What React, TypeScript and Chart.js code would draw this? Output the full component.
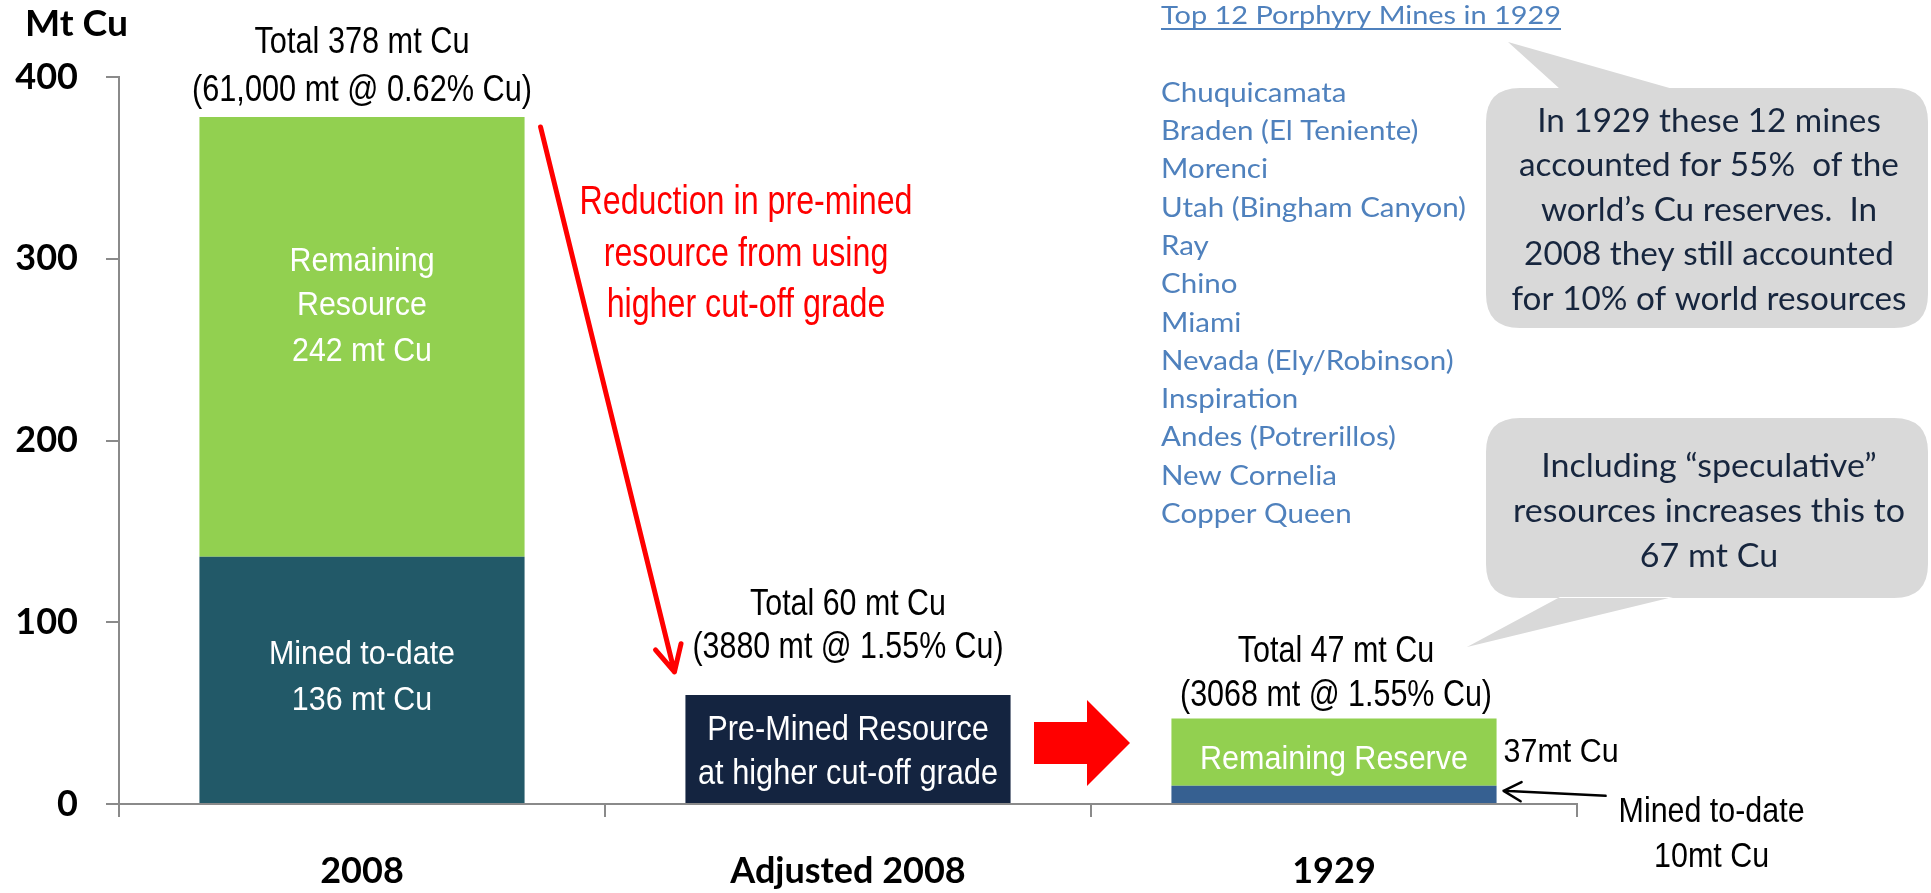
import React, { useEffect, useRef } from "react";
import { Chart, registerables } from "chart.js";

Chart.register(...registerables);

const categories = ["2008", "Adjusted 2008", "1929"];
const minedToDate = [136, null, 10];
const remaining = [242, null, 37];
const preMinedHigherCutoff = [null, 60, null];
const yMax = 400;
const yStep = 100;

const totalLabels = [
  ["Total 378 mt Cu", "(61,000 mt @ 0.62% Cu)"],
  ["Total 60 mt Cu", "(3880 mt @ 1.55% Cu)"],
  ["Total 47 mt Cu", "(3068 mt @ 1.55% Cu)"],
];
const mineTitle = "Top 12 Porphyry Mines in 1929";
const mines = [
  "Chuquicamata",
  "Braden (El Teniente)",
  "Morenci",
  "Utah (Bingham Canyon)",
  "Ray",
  "Chino",
  "Miami",
  "Nevada (Ely/Robinson)",
  "Inspiration",
  "Andes (Potrerillos)",
  "New Cornelia",
  "Copper Queen",
];
const callout1 = [
  "In 1929 these 12 mines",
  "accounted for 55%  of the",
  "world\u2019s Cu reserves.  In",
  "2008 they still accounted",
  "for 10% of world resources",
];
const callout2 = [
  "Including \u201cspeculative\u201d",
  "resources increases this to",
  "67 mt Cu",
];
const reductionText = ["Reduction in pre-mined", "resource from using", "higher cut-off grade"];

const ARIAL = "'Liberation Sans', Arial, sans-serif";
const CALIBRI = "Lato, 'Open Sans', sans-serif";
const AXIS = "#8a8a8a";

function fitLines(
  ctx: CanvasRenderingContext2D,
  lines: string[],
  x: number,
  ys: number[],
  size: number,
  family: string,
  weight: string,
  color: string,
  targetW: number,
  align: CanvasTextAlign = "center",
  capRatio = 0.72
) {
  ctx.save();
  ctx.font = `${weight} ${size}px ${family}`;
  const maxW = Math.max(...lines.map((l) => ctx.measureText(l).width));
  const sx = targetW / maxW;
  ctx.fillStyle = color;
  ctx.textAlign = align;
  ctx.textBaseline = "alphabetic";
  lines.forEach((l, i) => {
    ctx.save();
    ctx.translate(x, ys[i] + (capRatio * size) / 2);
    ctx.scale(sx, 1);
    ctx.fillText(l, 0, 0);
    ctx.restore();
  });
  ctx.restore();
  return sx;
}

function roundRect(ctx: CanvasRenderingContext2D, x0: number, y0: number, x1: number, y1: number, r: number) {
  ctx.moveTo(x0 + r, y0);
  ctx.lineTo(x1 - r, y0);
  ctx.quadraticCurveTo(x1, y0, x1, y0 + r);
  ctx.lineTo(x1, y1 - r);
  ctx.quadraticCurveTo(x1, y1, x1 - r, y1);
  ctx.lineTo(x0 + r, y1);
  ctx.quadraticCurveTo(x0, y1, x0, y1 - r);
  ctx.lineTo(x0, y0 + r);
  ctx.quadraticCurveTo(x0, y0, x0 + r, y0);
}

function arrowLine(
  ctx: CanvasRenderingContext2D,
  x0: number,
  y0: number,
  x1: number,
  y1: number,
  color: string,
  width: number,
  headLen: number,
  headAng: number
) {
  const a = Math.atan2(y1 - y0, x1 - x0);
  ctx.save();
  ctx.strokeStyle = color;
  ctx.lineWidth = width;
  ctx.lineCap = "round";
  ctx.lineJoin = "round";
  ctx.beginPath();
  ctx.moveTo(x0, y0);
  ctx.lineTo(x1, y1);
  ctx.moveTo(x1 - headLen * Math.cos(a - headAng), y1 - headLen * Math.sin(a - headAng));
  ctx.lineTo(x1, y1);
  ctx.lineTo(x1 - headLen * Math.cos(a + headAng), y1 - headLen * Math.sin(a + headAng));
  ctx.stroke();
  ctx.restore();
}

const annotations = {
  id: "annotations",
  afterDraw(chart: any) {
    const ctx: CanvasRenderingContext2D = chart.ctx;
    const mined = chart.getDatasetMeta(0).data;
    const rem = chart.getDatasetMeta(1).data;
    const pre = chart.getDatasetMeta(2).data;
    const b0 = rem[0];
    const b1 = pre[1];
    const b2 = rem[2];

    // axis title
    fitLines(ctx, ["Mt Cu"], 25, [23], 36, CALIBRI, "bold", "#000", 103, "left");

    // totals above bars
    fitLines(ctx, totalLabels[0], b0.x, [b0.y - 77, b0.y - 29], 36, ARIAL, "normal", "#000", 340, "center", 0.716);
    fitLines(ctx, totalLabels[1], b1.x, [b1.y - 93, b1.y - 50], 36, ARIAL, "normal", "#000", 311, "center", 0.716);
    fitLines(ctx, totalLabels[2], b2.x + 2, [b2.y - 69, b2.y - 25], 36, ARIAL, "normal", "#000", 312, "center", 0.716);

    // inside bars
    fitLines(ctx, ["Remaining", "Resource", "242 mt Cu"], b0.x, [b0.y + 142, b0.y + 186, b0.y + 232], 34, ARIAL, "normal", "#fff", 145, "center", 0.716);
    const m0 = mined[0];
    fitLines(ctx, ["Mined to-date", "136 mt Cu"], m0.x, [m0.y + 95, m0.y + 141], 34, ARIAL, "normal", "#fff", 186, "center", 0.716);
    fitLines(ctx, ["Pre-Mined Resource", "at higher cut-off grade"], b1.x, [b1.y + 33, b1.y + 77], 35, ARIAL, "normal", "#fff", 300, "center", 0.716);
    fitLines(ctx, ["Remaining Reserve"], b2.x, [b2.y + 39], 33, ARIAL, "normal", "#fff", 268, "center", 0.716);

    // labels to the right of 1929 bar
    const right = b2.x + b2.width / 2;
    fitLines(ctx, ["37mt Cu"], right + 7, [b2.y + 32], 33, ARIAL, "normal", "#000", 115, "left", 0.716);
    fitLines(ctx, ["Mined to-date", "10mt Cu"], right + 215, [b2.y + 91, b2.y + 136], 35, ARIAL, "normal", "#000", 186, "center", 0.716);
    const m2 = mined[2];
    arrowLine(ctx, right + 109, m2.y + 10, right + 7, m2.y + 5, "#000", 2.5, 20, 0.5);

    // red diagonal arrow + text
    arrowLine(ctx, b0.x + b0.width / 2 + 16, b0.y + 10, b1.x - b1.width / 2 - 11, b1.y - 23, "#ff0000", 5, 29, 0.47);
    fitLines(ctx, reductionText, 746, [200, 252, 303], 40, ARIAL, "normal", "#ff0000", 333, "center", 0.716);

    // red block arrow
    ctx.save();
    ctx.fillStyle = "#ff0000";
    ctx.beginPath();
    ctx.moveTo(1034, 722);
    ctx.lineTo(1087, 722);
    ctx.lineTo(1087, 700);
    ctx.lineTo(1130, 743);
    ctx.lineTo(1087, 786);
    ctx.lineTo(1087, 764);
    ctx.lineTo(1034, 764);
    ctx.closePath();
    ctx.fill();
    ctx.restore();

    // mines list
    const listX = 1161;
    fitLines(ctx, [mineTitle], listX, [15], 25, CALIBRI, "normal", "#4F81BD", 400, "left");
    ctx.save();
    ctx.strokeStyle = "#4F81BD";
    ctx.lineWidth = 2;
    ctx.beginPath();
    ctx.moveTo(listX, 29);
    ctx.lineTo(listX + 400, 29);
    ctx.stroke();
    ctx.restore();
    fitLines(
      ctx,
      mines,
      listX,
      mines.map((_, i) => 92 + i * 38.3),
      27,
      CALIBRI,
      "normal",
      "#4F81BD",
      305,
      "left"
    );

    // callouts
    ctx.save();
    ctx.fillStyle = "#d9d9d9";
    ctx.beginPath();
    roundRect(ctx, 1486, 88, 1928, 328, 34);
    ctx.moveTo(1560, 89);
    ctx.lineTo(1508, 42);
    ctx.lineTo(1673, 89);
    ctx.closePath();
    ctx.fill();
    ctx.beginPath();
    roundRect(ctx, 1486, 418, 1928, 598, 34);
    ctx.moveTo(1560, 597);
    ctx.lineTo(1467, 647);
    ctx.lineTo(1673, 597);
    ctx.closePath();
    ctx.fill();
    ctx.restore();

    fitLines(ctx, callout1, 1709, [120, 164, 209, 253, 298], 32, CALIBRI, "normal", "#17263e", 395, "center");
    fitLines(ctx, callout2, 1709, [465, 510, 555], 32, CALIBRI, "normal", "#17263e", 392, "center");
  },
};

export default function App() {
  const ref = useRef<HTMLCanvasElement | null>(null);
  useEffect(() => {
    const canvas = ref.current;
    if (!canvas) return;
    const tickFont = { family: "Lato, 'Open Sans', sans-serif", weight: "bold" as const, size: 36 };
    const chart = new Chart(canvas, {
      type: "bar",
      data: {
        labels: categories,
        datasets: [
          { label: "Mined to-date", data: minedToDate, backgroundColor: ["#225968", "#225968", "#366091"] },
          { label: "Remaining", data: remaining, backgroundColor: "#92D050" },
          { label: "Pre-Mined Resource at higher cut-off grade", data: preMinedHigherCutoff, backgroundColor: "#142440" },
        ],
      },
      options: {
        responsive: false,
        animation: false,
        devicePixelRatio: 1,
        layout: { padding: { top: 77, right: 354, left: 0, bottom: 0 } },
        plugins: { legend: { display: false }, tooltip: { enabled: false } },
        datasets: { bar: { barPercentage: 0.669, categoryPercentage: 1, borderWidth: 0 } },
        scales: {
          x: {
            stacked: true,
            grid: { offset: true, drawOnChartArea: false, tickLength: 13, color: AXIS, lineWidth: 2 },
            border: { color: AXIS, width: 2 },
            ticks: { font: tickFont, color: "#000", padding: 33, maxRotation: 0 },
            afterFit: (s: any) => {
              s.height = 89;
            },
          },
          y: {
            stacked: true,
            min: 0,
            max: yMax,
            ticks: { stepSize: yStep, font: tickFont, color: "#000", padding: 28 },
            grid: { drawOnChartArea: false, tickLength: 13, color: AXIS, lineWidth: 2 },
            border: { color: AXIS, width: 2 },
            afterFit: (s: any) => {
              s.width = 119;
            },
          },
        },
      },
      plugins: [annotations],
    });
    const fonts = ["bold 36px Lato", "32px Lato", "36px 'Liberation Sans'"];
    Promise.all(fonts.map((f) => (document as any).fonts.load(f)))
      .then(() => chart.update())
      .catch(() => {});
    return () => chart.destroy();
  }, []);
  return (
    <div style={{ position: "fixed", left: 0, top: 0, width: 1931, height: 893, background: "#fff" }}>
      <canvas ref={ref} width={1931} height={893} style={{ display: "block" }} />
    </div>
  );
}
